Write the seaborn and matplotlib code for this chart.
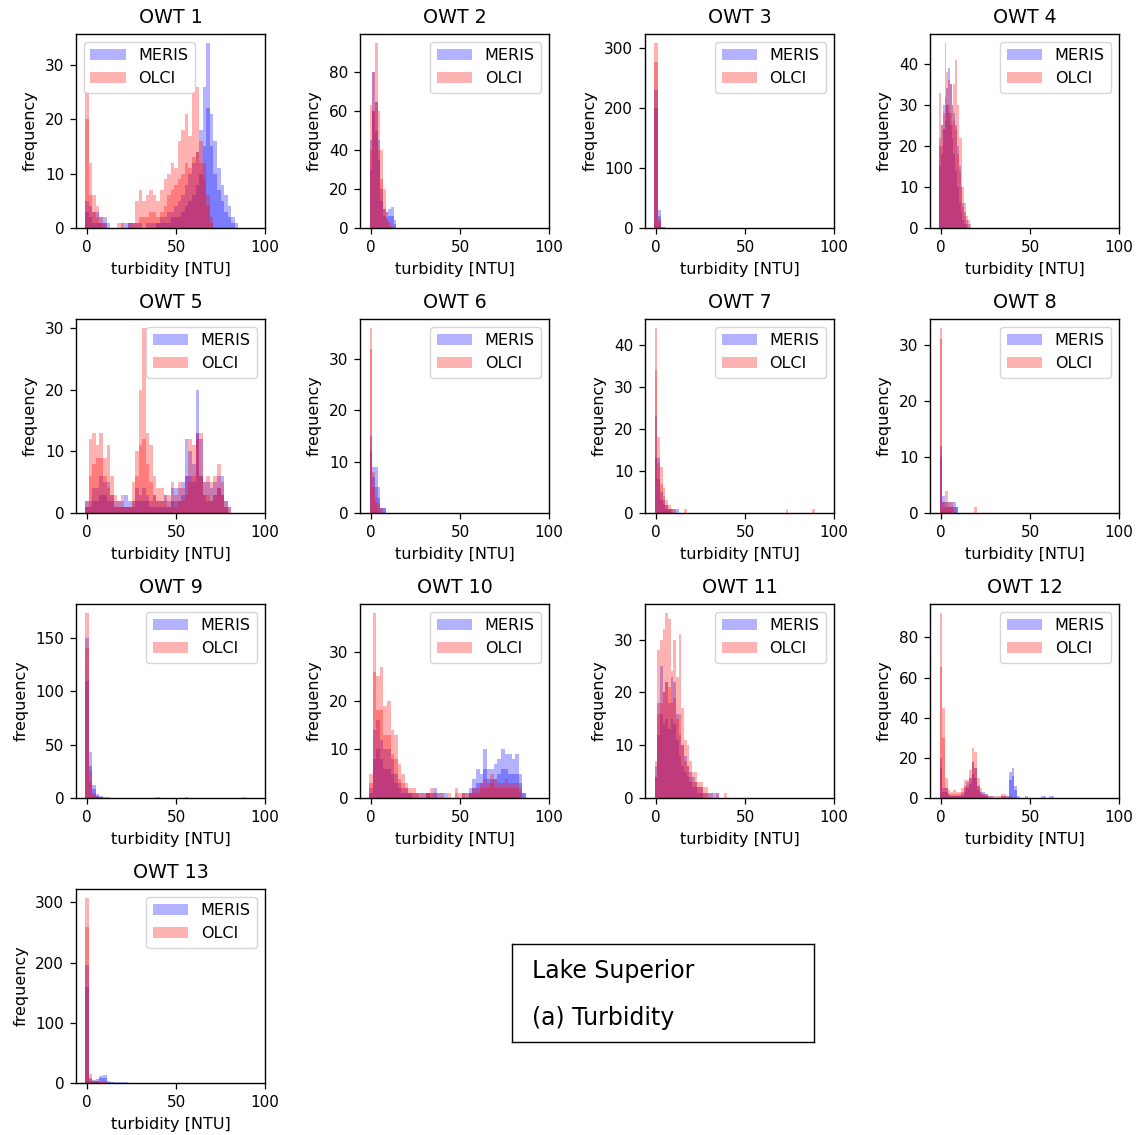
import numpy as np
import pandas as pd
import matplotlib
matplotlib.use("Agg")
import matplotlib.pyplot as plt
import seaborn as sns
from matplotlib.patches import Patch

# ---------------- data: histogram bin centres (NTU) and counts ----------------
# each sensor has two overlaid histogram layers (A = outer, B = inner)
OWT1_X = list(range(0, 88, 2))
OWT1_OLCI = ([25, 12, 6, 4, 2, 1, 0, 0, 0, 1, 1, 0, 1, 1, 5, 7, 5, 6, 7, 6, 5, 7, 9, 10, 12, 11, 16, 18, 21, 17, 25, 26, 16, 12, 6, 2, 0, 0, 0, 0, 0, 0, 0, 0],
             [20, 6, 3, 2, 1, 0, 0, 0, 0, 0, 1, 0, 0, 1, 1, 2, 2, 2, 3, 3, 2, 3, 4, 6, 7, 8, 9, 10, 12, 11, 13, 14, 12, 9, 4, 1, 0, 0, 0, 0, 0, 0, 0, 0])
OWT1_MERIS = ([5, 4, 3, 3, 2, 2, 1, 0, 0, 0, 0, 1, 1, 1, 1, 1, 0, 1, 1, 1, 1, 2, 2, 3, 3, 4, 5, 6, 8, 10, 12, 14, 18, 26, 34, 21, 16, 11, 8, 6, 4, 2, 1, 0],
              [3, 2, 1, 1, 1, 1, 0, 0, 0, 0, 0, 0, 1, 0, 0, 0, 0, 0, 0, 0, 1, 1, 1, 1, 2, 2, 2, 3, 4, 5, 6, 8, 10, 15, 22, 15, 10, 7, 5, 3, 2, 1, 0, 0])

OWT2_X = [0, 1.5, 3, 4.5, 6, 7.5, 9, 10.5, 12, 13.5]
OWT2_OLCI = ([63, 80, 95, 60, 40, 20, 8, 3, 1, 0],
             [40, 60, 65, 40, 25, 10, 4, 1, 0, 0])
OWT2_MERIS = ([45, 80, 65, 45, 20, 10, 8, 10, 11, 4],
              [30, 60, 50, 35, 14, 6, 5, 6, 6, 2])

OWT3_X = [0, 2, 4]
OWT3_OLCI = ([308, 15, 0], [277, 10, 0])
OWT3_MERIS = ([230, 30, 2], [200, 20, 1])

OWT4_X = [-0.5, 0.5, 1.5, 2.5, 3.5, 4.5, 5.5, 6.5, 7.5, 8.5, 9.5, 10.5, 11.5, 12.5, 13.5, 14.5, 15.5, 16.5]
OWT4_OLCI = ([33, 25, 28, 45, 38, 36, 35, 30, 35, 41, 30, 22, 22, 10, 6, 3, 2, 1],
             [22, 20, 24, 28, 30, 30, 28, 25, 26, 24, 18, 14, 10, 5, 3, 1, 0, 0])
OWT4_MERIS = ([20, 25, 30, 32, 34, 39, 35, 30, 28, 25, 20, 15, 10, 6, 4, 2, 1, 0],
              [15, 18, 24, 26, 30, 28, 25, 22, 18, 14, 10, 6, 4, 2, 1, 0, 0, 0])

OWT5_X = list(range(0, 82, 2))
OWT5_OLCI = ([2, 12, 13, 11, 13, 9, 11, 6, 3, 2, 3, 1, 1, 5, 10, 20, 30, 13, 11, 6, 4, 4, 3, 3, 5, 3, 5, 4, 6, 12, 11, 13, 13, 5, 6, 5, 6, 8, 5, 2, 1],
             [1, 6, 8, 9, 9, 6, 4, 3, 1, 1, 1, 1, 1, 2, 6, 11, 12, 8, 5, 3, 2, 2, 2, 1, 2, 1, 2, 2, 3, 5, 6, 12, 6, 3, 3, 2, 3, 4, 3, 1, 0])
OWT5_MERIS = ([2, 2, 4, 4, 6, 5, 5, 3, 2, 2, 2, 3, 2, 2, 4, 3, 4, 3, 2, 3, 2, 2, 3, 2, 4, 4, 4, 5, 12, 10, 8, 20, 12, 5, 5, 4, 5, 6, 6, 2, 1],
              [1, 1, 2, 2, 3, 3, 2, 2, 1, 1, 1, 1, 1, 1, 2, 2, 2, 2, 1, 1, 1, 1, 1, 1, 2, 2, 2, 3, 6, 6, 5, 13, 6, 3, 2, 2, 3, 4, 3, 1, 0])

OWT6_X = [0, 1.5, 3, 4.5, 6, 7.5]
OWT6_OLCI = ([36, 8, 3, 2, 1, 0], [32, 5, 2, 1, 0, 0])
OWT6_MERIS = ([15, 9, 9, 5, 1, 1], [12, 7, 5, 3, 1, 1])

OWT7_X = [0, 1.5, 3, 4.5, 6, 7.5, 9, 10.5, 12, 16.5, 73.5, 88.5]
OWT7_OLCI = ([44, 18, 11, 6, 3, 2, 1, 1, 0, 1, 1, 1],
             [34, 12, 7, 4, 2, 1, 1, 0, 0, 0, 0, 0])
OWT7_MERIS = ([23, 13, 5, 3, 2, 1, 1, 1, 1, 0, 0, 0],
              [13, 8, 3, 2, 1, 1, 0, 0, 0, 0, 0, 0])

OWT8_X = [0, 1.5, 3, 4.5, 6, 7.5, 9, 19.5]
OWT8_OLCI = ([33, 2, 4, 2, 2, 1, 0, 1], [31, 1, 2, 1, 1, 0, 0, 0])
OWT8_MERIS = ([12, 3, 2, 2, 2, 2, 1, 0], [10, 2, 1, 1, 1, 1, 1, 0])

OWT9_X = [0, 2, 4, 6, 8, 10, 12, 40, 56, 88]
OWT9_OLCI = ([173, 25, 5, 2, 1, 0, 0, 0, 0, 1], [140, 15, 3, 1, 0, 0, 0, 0, 0, 0])
OWT9_MERIS = ([150, 43, 12, 4, 2, 1, 1, 1, 1, 0], [110, 30, 8, 2, 1, 0, 0, 0, 0, 0])

OWT10_X = list(range(0, 88, 2))
OWT10_OLCI = ([5, 38, 25, 27, 19, 20, 14, 13, 7, 5, 3, 2, 2, 1, 1, 1, 1, 2, 1, 1, 1, 0, 1, 0, 2, 1, 1, 1, 1, 2, 2, 3, 4, 3, 5, 4, 3, 3, 4, 3, 3, 3, 2, 0],
              [3, 26, 18, 18, 13, 13, 9, 8, 4, 3, 2, 1, 1, 1, 0, 0, 1, 1, 0, 0, 0, 0, 0, 0, 1, 0, 1, 0, 1, 1, 1, 2, 2, 2, 3, 2, 2, 2, 2, 2, 2, 2, 1, 0])
OWT10_MERIS = ([2, 14, 16, 12, 10, 10, 8, 5, 3, 2, 2, 1, 1, 1, 1, 1, 1, 1, 2, 1, 1, 1, 0, 0, 0, 0, 1, 1, 2, 4, 6, 5, 10, 6, 6, 7, 8, 10, 9, 9, 8, 9, 5, 1],
               [1, 8, 10, 8, 6, 6, 5, 3, 2, 1, 1, 1, 0, 0, 0, 0, 1, 0, 1, 0, 0, 0, 0, 0, 0, 0, 0, 0, 1, 2, 3, 3, 6, 4, 4, 4, 5, 6, 6, 5, 5, 5, 3, 1])

OWT11_X = [0, 1.5, 3, 4.5, 6, 7.5, 9, 10.5, 12, 13.5, 15, 16.5, 18, 19.5, 21, 22.5, 24, 25.5, 27, 28.5, 30, 31.5, 33, 34.5, 36, 37.5, 39]
OWT11_OLCI = ([7, 28, 30, 32, 35, 34, 24, 30, 23, 31, 17, 11, 10, 7, 5, 5, 3, 3, 2, 2, 1, 1, 0, 1, 0, 0, 1],
              [4, 16, 18, 20, 22, 21, 18, 19, 15, 16, 10, 7, 6, 4, 3, 3, 2, 2, 1, 1, 0, 0, 0, 0, 0, 0, 0])
OWT11_MERIS = ([6, 18, 25, 20, 22, 18, 23, 22, 16, 12, 10, 8, 6, 5, 4, 3, 2, 2, 1, 1, 1, 1, 1, 1, 0, 0, 0],
               [4, 12, 16, 14, 15, 13, 15, 14, 11, 8, 6, 5, 4, 3, 2, 2, 1, 1, 0, 0, 0, 0, 0, 0, 0, 0, 0])

OWT12_X = [0, 1.5, 3, 4.5, 6, 7.5, 9, 10.5, 12, 13.5, 15, 16.5, 18, 19.5, 21, 22.5, 24, 25.5, 27, 28.5, 30, 31.5,
           33, 34.5, 36, 37.5, 39, 40.5, 42, 43.5, 45, 46.5, 48, 49.5, 51, 52.5, 54, 55.5, 57, 58.5, 60, 61.5, 63]
OWT12_OLCI = ([92, 45, 10, 4, 3, 4, 3, 3, 5, 9, 9, 14, 25, 23, 10, 5, 2, 2, 1, 1, 1, 1, 1, 2, 2, 1, 1, 0, 0, 0, 0, 0, 0, 0, 0, 0, 0, 0, 0, 0, 0, 0, 0],
              [65, 30, 5, 2, 2, 2, 2, 2, 3, 6, 6, 10, 18, 15, 6, 3, 1, 1, 0, 0, 0, 0, 0, 1, 1, 0, 0, 0, 0, 0, 0, 0, 0, 0, 0, 0, 0, 0, 0, 0, 0, 0, 0])
OWT12_MERIS = ([20, 5, 5, 2, 1, 1, 1, 1, 2, 5, 8, 10, 18, 15, 6, 3, 3, 2, 1, 1, 0, 0, 0, 1, 1, 1, 13, 15, 6, 1, 0, 0, 1, 0, 0, 0, 0, 0, 1, 1, 0, 1, 1],
               [15, 3, 3, 1, 1, 1, 1, 1, 1, 3, 5, 7, 12, 10, 4, 2, 2, 1, 0, 0, 0, 0, 0, 0, 0, 0, 9, 11, 4, 0, 0, 0, 0, 0, 0, 0, 0, 0, 0, 0, 0, 0, 0])

OWT13_X = list(range(0, 24, 2))
OWT13_OLCI = ([307, 15, 4, 3, 2, 2, 0, 0, 0, 0, 0, 0], [260, 8, 2, 2, 1, 1, 0, 0, 0, 0, 0, 0])
OWT13_MERIS = ([196, 6, 5, 6, 12, 14, 4, 1, 1, 1, 1, 1], [160, 4, 3, 4, 8, 9, 2, 1, 0, 0, 0, 0])

TITLES = ["OWT 1", "OWT 2", "OWT 3", "OWT 4", "OWT 5", "OWT 6", "OWT 7",
          "OWT 8", "OWT 9", "OWT 10", "OWT 11", "OWT 12", "OWT 13"]
SERIES = ["MERIS", "OLCI"]
XLABEL = "turbidity [NTU]"
YLABEL = "frequency"
BOX_LINES = ["Lake Superior", "(a) Turbidity"]

PANELS = [
    (OWT1_X, OWT1_MERIS, OWT1_OLCI, 2.0),
    (OWT2_X, OWT2_MERIS, OWT2_OLCI, 1.5),
    (OWT3_X, OWT3_MERIS, OWT3_OLCI, 2.0),
    (OWT4_X, OWT4_MERIS, OWT4_OLCI, 1.0),
    (OWT5_X, OWT5_MERIS, OWT5_OLCI, 2.0),
    (OWT6_X, OWT6_MERIS, OWT6_OLCI, 1.5),
    (OWT7_X, OWT7_MERIS, OWT7_OLCI, 1.5),
    (OWT8_X, OWT8_MERIS, OWT8_OLCI, 1.5),
    (OWT9_X, OWT9_MERIS, OWT9_OLCI, 2.0),
    (OWT10_X, OWT10_MERIS, OWT10_OLCI, 2.0),
    (OWT11_X, OWT11_MERIS, OWT11_OLCI, 1.5),
    (OWT12_X, OWT12_MERIS, OWT12_OLCI, 1.5),
    (OWT13_X, OWT13_MERIS, OWT13_OLCI, 2.0),
]

# ---------------- style ----------------
sns.set_theme(style="ticks")
plt.rcParams['font.family'] = ['DejaVu Sans']
plt.rcParams.update({
    "axes.edgecolor": "black",
    "axes.linewidth": 1.0,
    "xtick.color": "black",
    "ytick.color": "black",
    "xtick.major.size": 4,
    "ytick.major.size": 4,
    "xtick.major.width": 0.9,
    "ytick.major.width": 0.9,
    "text.color": "black",
    "axes.labelcolor": "black",
})

W, H = 1141, 1135
fig = plt.figure(figsize=(W / 100, H / 100), dpi=100)

COL_LEFT = [76, 360, 645, 930]
ROW_TOP = [34, 319, 604, 889]
AX_W, AX_H = 189, 194

FS_TICK = 11
FS_LAB = 11.5
COLORS = {"MERIS": "blue", "OLCI": "red"}

for i, (xc, meris, olci, bw) in enumerate(PANELS):
    r, c = divmod(i, 4)
    left = COL_LEFT[c] / W
    bottom = 1 - (ROW_TOP[r] + AX_H) / H
    ax = fig.add_axes([left, bottom, AX_W / W, AX_H / H])
    lo = min(xc) - bw / 2
    hi = max(xc) + bw / 2
    for name, layers in (("MERIS", meris), ("OLCI", olci)):
        for layer in layers:
            df = pd.DataFrame({"ntu": np.asarray(xc, dtype=float),
                               "count": np.asarray(layer, dtype=float)})
            sns.histplot(data=df, x="ntu", weights="count", binwidth=bw,
                         binrange=(lo, hi), color=COLORS[name],
                         alpha=0.3, linewidth=0, element="bars", fill=True, ax=ax)
    ax.set_xlim(-6.2, 100)
    ax.set_xticks([0, 50, 100])
    ax.set_title(TITLES[i], fontsize=13.7, pad=8)
    ax.set_xlabel(XLABEL, fontsize=FS_LAB, labelpad=5.5)
    ax.set_ylabel(YLABEL, fontsize=FS_LAB, labelpad=5)
    ax.tick_params(labelsize=FS_TICK, pad=4.5)
    for sp in ax.spines.values():
        sp.set_visible(True)
    handles = [Patch(facecolor=COLORS[s], alpha=0.3, edgecolor="none", label=s) for s in SERIES]
    ax.legend(handles=handles, loc="upper left" if i == 0 else "upper right",
              fontsize=FS_LAB, frameon=True, handlelength=2.2)

# text box
bx = fig.add_axes([512 / W, 1 - 1042 / H, 302 / W, 98 / H])
bx.set_xticks([])
bx.set_yticks([])
for sp in bx.spines.values():
    sp.set_visible(True)
    sp.set_color("black")
    sp.set_linewidth(1.0)
bx.text(20 / 302, 1 - 27 / 98, BOX_LINES[0], transform=bx.transAxes, fontsize=17,
        va="center", ha="left")
bx.text(20 / 302, 1 - 74 / 98, BOX_LINES[1], transform=bx.transAxes, fontsize=17,
        va="center", ha="left")

fig.savefig("out.png", dpi=100)
